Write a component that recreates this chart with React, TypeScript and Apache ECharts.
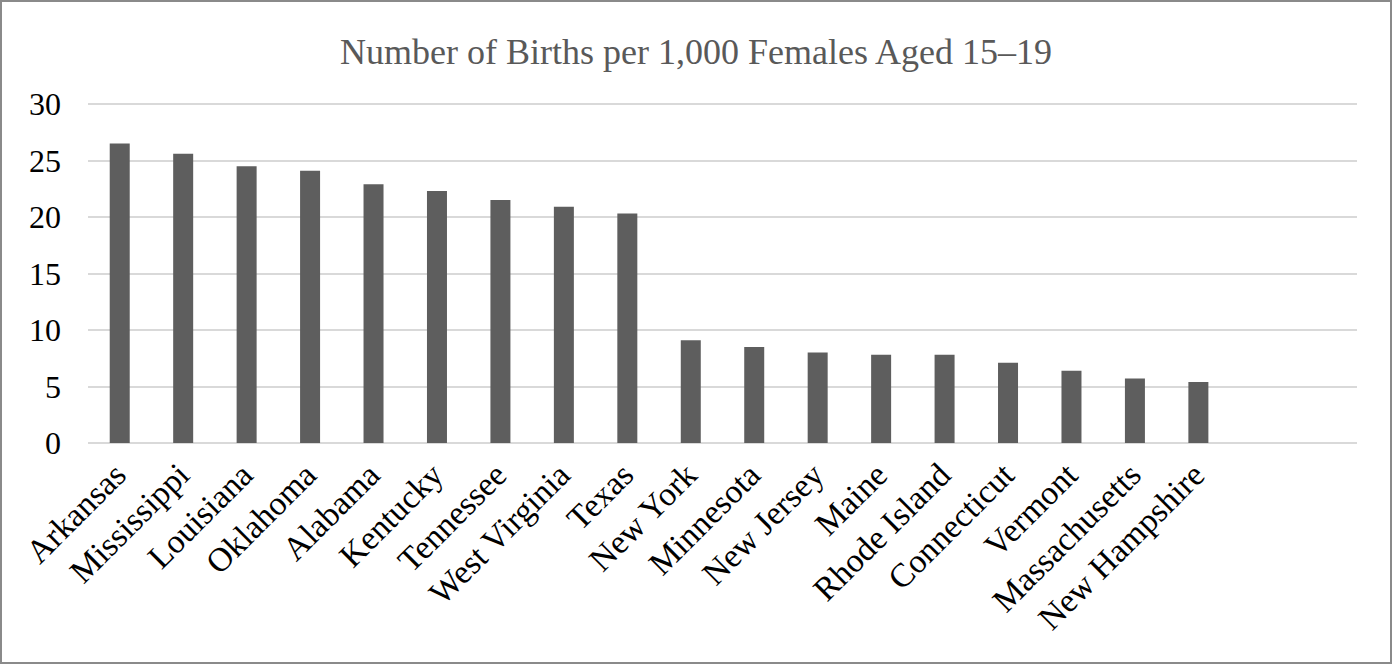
import React, { useEffect, useRef } from "react";
import * as echarts from "echarts";

const titleText = "Number of Births per 1,000 Females Aged 15–19";

const states = [
  "Arkansas",
  "Mississippi",
  "Louisiana",
  "Oklahoma",
  "Alabama",
  "Kentucky",
  "Tennessee",
  "West Virginia",
  "Texas",
  "New York",
  "Minnesota",
  "New Jersey",
  "Maine",
  "Rhode Island",
  "Connecticut",
  "Vermont",
  "Massachusetts",
  "New Hampshire",
];

const birthRates = [
  26.5, 25.6, 24.5, 24.1, 22.9, 22.3, 21.5, 20.9, 20.3, 9.1, 8.5, 8.0, 7.8, 7.8,
  7.1, 6.4, 5.7, 5.4,
];

// two empty category slots at the right end of the axis
const emptySlots = ["", ""];

const yMin = 0;
const yMax = 30;
const yStep = 5;

export default function App() {
  const ref = useRef<HTMLDivElement>(null);

  useEffect(() => {
    if (!ref.current) return;
    const chart = echarts.init(ref.current, undefined, { renderer: "svg" });
    const font = "'Liberation Serif', 'Times New Roman', serif";
    chart.setOption({
      animation: false,
      backgroundColor: "#ffffff",
      title: {
        text: titleText,
        left: "center",
        top: 27,
        textStyle: {
          fontFamily: font,
          fontSize: 36,
          fontWeight: "normal",
          color: "#595959",
        },
      },
      grid: {
        left: 86,
        right: 33,
        top: 102,
        bottom: 219,
        containLabel: false,
      },
      xAxis: {
        type: "category",
        data: [...states, ...emptySlots],
        axisLine: { show: false },
        axisTick: { show: false },
        axisLabel: {
          interval: 0,
          rotate: 45,
          margin: 26,
          fontFamily: font,
          fontSize: 33.5,
          color: "#000000",
        },
      },
      yAxis: {
        type: "value",
        min: yMin,
        max: yMax,
        interval: yStep,
        axisLine: { show: false },
        axisTick: { show: false },
        axisLabel: {
          margin: 27,
          fontFamily: font,
          fontSize: 32,
          color: "#000000",
        },
        splitLine: { lineStyle: { color: "#d9d9d9", width: 2 } },
      },
      series: [
        {
          type: "bar",
          data: birthRates,
          barWidth: 20,
          itemStyle: { color: "#5e5e5e" },
        },
      ],
    });
    return () => chart.dispose();
  }, []);

  return (
    <div
      style={{
        position: "absolute",
        left: 0,
        top: 0,
        width: 1392,
        height: 664,
        boxSizing: "border-box",
        border: "2px solid #8a8a8a",
        background: "#ffffff",
      }}
    >
      <div ref={ref} style={{ width: 1388, height: 660 }} />
    </div>
  );
}
